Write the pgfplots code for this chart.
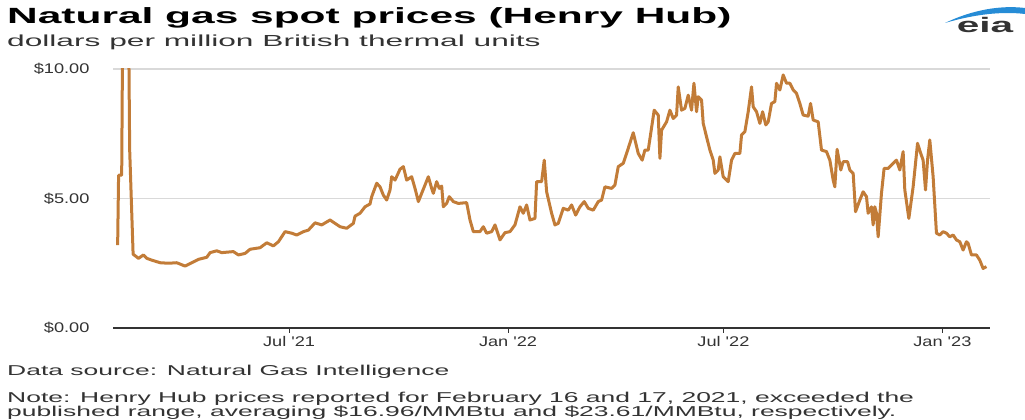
\documentclass[border=0pt]{standalone}
\usepackage{pgfplots}
\pgfplotsset{compat=1.18}
\usepackage{pgfplotstable}
\usepackage{fontspec}
\setmainfont{Liberation Sans}
\newfontfamily\wbody[FakeStretch=1.85]{Liberation Sans}
\newfontfamily\wsub[FakeStretch=1.98]{Liberation Sans}
\newfontfamily\wtitle[FakeStretch=1.93]{Liberation Sans}
\newfontfamily\wtick[FakeStretch=1.3]{Liberation Sans}
\definecolor{gasline}{RGB}{194,124,56}
\definecolor{txtgray}{RGB}{51,51,51}
\definecolor{gridgray}{RGB}{217,217,217}
\definecolor{eiablue}{RGB}{38,140,214}

\pgfplotstableread{
d p
36.9 3.20
37.7 5.90
40.3 5.90
41.9 16.96
44.0 23.61
47.0 6.90
49.9 2.85
54.4 2.69
58.6 2.82
61.4 2.69
65.6 2.62
72.6 2.52
79.6 2.50
86.6 2.52
93.6 2.39
99.2 2.52
104.8 2.65
111.8 2.73
114.6 2.91
120.2 2.98
124.4 2.91
134.2 2.95
138.4 2.82
144.0 2.88
148.2 3.04
153.8 3.08
156.6 3.10
162.2 3.29
167.8 3.17
172.0 3.33
177.6 3.72
183.2 3.66
187.4 3.59
193.0 3.72
197.2 3.78
202.8 4.06
208.4 3.98
215.4 4.17
219.6 4.04
223.8 3.91
229.4 3.85
235.0 4.04
236.4 4.32
240.6 4.43
244.8 4.68
249.0 4.79
250.4 5.07
254.6 5.59
257.4 5.45
260.2 5.13
263.0 4.94
265.8 5.33
267.2 5.84
270.0 5.71
274.2 6.13
277.0 6.23
279.8 5.71
284.0 5.84
286.8 5.39
289.6 4.88
292.4 5.20
295.2 5.52
298.0 5.84
300.8 5.39
302.2 5.20
305.0 5.65
307.2 5.39
309.2 5.48
310.6 4.68
313.4 4.81
315.6 5.07
319.0 4.88
323.2 4.81
330.2 4.84
333.0 4.17
335.8 3.72
341.4 3.72
344.2 3.91
347.0 3.66
351.2 3.72
354.0 3.98
358.2 3.40
362.4 3.68
366.6 3.72
370.8 3.98
375.0 4.68
377.8 4.43
380.6 4.75
383.4 4.17
387.6 4.23
389.0 5.65
393.2 5.65
395.4 6.48
397.4 5.26
401.6 4.43
404.4 3.98
407.2 4.04
411.4 4.62
415.6 4.55
418.4 4.75
421.8 4.36
425.4 4.68
429.0 4.88
432.4 4.62
436.6 4.55
440.8 4.88
443.6 4.94
446.4 5.45
452.0 5.39
454.8 5.52
457.6 6.23
461.8 6.36
464.6 6.74
470.2 7.54
474.4 6.74
477.7 6.48
480.0 6.87
482.8 6.87
487.8 8.41
491.2 8.22
492.6 6.55
494.0 7.64
498.2 7.96
501.0 8.41
503.8 8.09
506.6 8.22
508.0 9.31
510.8 8.41
513.6 8.48
516.4 8.99
519.2 8.41
521.2 9.45
523.4 8.35
524.8 8.93
527.6 8.80
529.0 7.90
531.8 7.38
534.6 6.87
537.4 6.48
538.8 5.97
541.6 6.10
543.0 6.61
545.8 5.84
550.0 5.65
552.8 6.48
555.6 6.74
559.8 6.74
561.2 7.45
564.0 7.58
566.8 8.35
569.6 9.31
571.0 8.54
573.8 8.35
576.6 7.90
578.9 8.35
581.6 7.84
583.6 7.96
586.4 8.67
589.2 8.74
590.6 9.45
593.4 9.19
596.2 9.77
599.0 9.45
601.8 9.45
604.6 9.19
607.4 9.06
610.2 8.67
613.0 8.22
617.2 8.18
619.2 8.67
621.4 8.03
625.6 7.96
628.4 6.87
632.6 6.81
635.4 6.48
638.2 5.71
639.6 5.45
641.5 6.90
644.6 6.10
646.6 6.42
650.3 6.42
652.2 6.10
655.0 5.97
657.0 4.49
660.6 4.94
663.4 5.26
666.2 5.07
667.6 4.43
670.4 4.68
671.8 3.98
673.2 4.68
674.6 4.43
676.0 3.52
678.8 5.20
681.0 6.16
684.4 6.16
688.6 6.36
691.4 6.48
694.2 6.10
697.0 6.81
698.4 5.33
701.8 4.23
705.4 5.45
709.1 7.13
711.8 6.74
713.8 6.48
715.8 5.33
717.5 6.48
719.4 7.26
722.2 5.84
725.0 3.66
727.8 3.59
730.6 3.72
733.4 3.66
736.2 3.52
739.0 3.59
741.8 3.40
744.6 3.33
747.4 3.01
750.2 3.33
751.6 3.27
754.4 2.82
758.6 2.82
761.4 2.62
764.2 2.30
767.0 2.37
}\gasdata

\begin{document}
\begin{tikzpicture}[x=1pt,y=1pt]
\path[use as bounding box] (0,0) rectangle (1025,420);
\begin{axis}[
  at={(113pt,92pt)}, anchor=south west,
  scale only axis, width=877pt, height=259pt,
  xmin=33, xmax=770, ymin=0, ymax=10,
  separate axis lines,
  axis x line*=bottom, axis y line*=left,
  y axis line style={draw=none},
  x axis line style={draw=txtgray, line width=1.3pt},
  xtick={181,365,546,730},
  xticklabels={Jul '21,Jan '22,Jul '22,Jan '23},
  ytick={0,5,10},
  yticklabels={\$0.00,\$5.00,\$10.00},
  ymajorgrids, grid style={draw=gridgray, line width=1.3pt},
  tick align=outside, major tick length=5pt,
  x tick style={draw=txtgray, line width=1pt},
  y tick style={draw=none},
  /pgf/number format/assume math mode=true,
  xticklabel style={font=\wtick\fontsize{14}{16}\selectfont, text=txtgray, yshift=0pt},
  yticklabel style={font=\wtick\fontsize{14}{16}\selectfont, text=txtgray, anchor=east, xshift=-15pt},
]
\addplot[color=gasline, line width=3pt, line join=round, mark=none] table[x=d, y=p] {\gasdata};
\end{axis}
% titles
\node[anchor=base west, inner sep=0pt] at (7,396) {\wtitle\bfseries\fontsize{22}{26}\selectfont Natural gas spot prices (Henry Hub)};
\node[anchor=base west, inner sep=0pt, text=txtgray] at (7,373) {\wsub\fontsize{16}{18}\selectfont dollars per million British thermal units};
\node[anchor=base west, inner sep=0pt, text=txtgray] at (7,44) {\wbody\fontsize{14.3}{16}\selectfont Data source: Natural Gas Intelligence};
\node[anchor=base west, inner sep=0pt, text=txtgray] at (7,17) {\wbody\fontsize{14.3}{16}\selectfont Note: Henry Hub prices reported for February 16 and 17, 2021, exceeded the};
\node[anchor=base west, inner sep=0pt, text=txtgray] at (7,3) {\wbody\fontsize{14.3}{16}\selectfont published range, averaging \$16.96/MMBtu and \$23.61/MMBtu, respectively.};
% eia logo
\fill[eiablue] (945,397) .. controls (972,410) and (1000,415) .. (1025,412) -- (1025,406) .. controls (1000,409) and (972,405) .. (945,397) -- cycle;
\node[anchor=base, inner sep=0pt, text=txtgray] at (985,387) {\wtitle\bfseries\fontsize{21}{24}\selectfont eia};
\end{tikzpicture}
\end{document}
